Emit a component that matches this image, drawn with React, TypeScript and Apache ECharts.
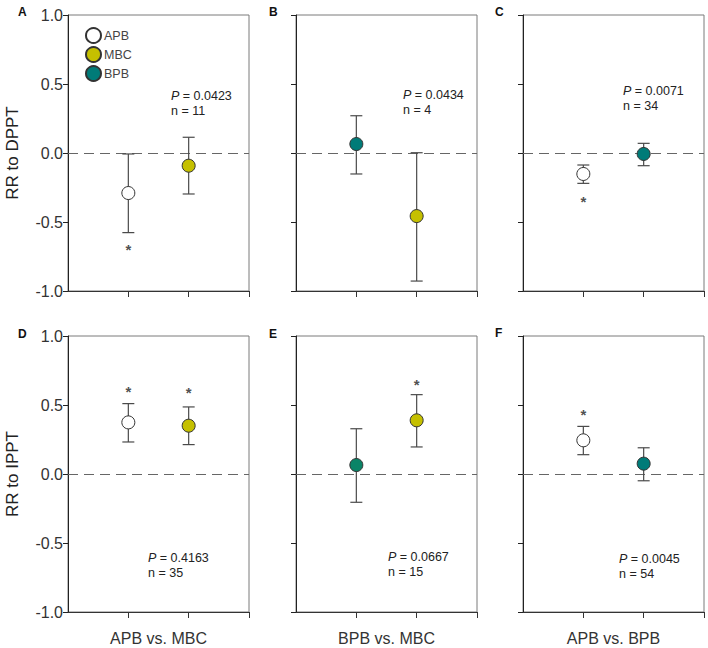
import React, { useEffect, useRef } from "react";
import * as echarts from "echarts";

const panelLetters = ["A", "B", "C", "D", "E", "F"];
const panelGroups = [
  ["APB", "MBC"],
  ["BPB", "MBC"],
  ["APB", "BPB"],
  ["APB", "MBC"],
  ["BPB", "MBC"],
  ["APB", "BPB"],
];
const means = [
  [-0.29, -0.092],
  [0.065, -0.457],
  [-0.152, -0.007],
  [0.374, 0.35],
  [0.065, 0.389],
  [0.244, 0.075],
];
const lowers = [
  [-0.577, -0.297],
  [-0.152, -0.928],
  [-0.22, -0.092],
  [0.232, 0.213],
  [-0.205, 0.196],
  [0.14, -0.049],
];
const uppers = [
  [-0.007, 0.114],
  [0.27, 0.002],
  [-0.087, 0.07],
  [0.51, 0.486],
  [0.328, 0.575],
  [0.345, 0.19],
];
// y position of significance asterisks (null = none)
const stars = [
  [-0.68, null],
  [null, null],
  [-0.333, null],
  [0.623, 0.61],
  [null, 0.669],
  [0.451, null],
];
const pValues = ["0.0423", "0.0434", "0.0071", "0.4163", "0.0667", "0.0045"];
const nValues = [11, 4, 34, 35, 15, 54];
const rowTitles = ["RR to DPPT", "RR to IPPT"];
const colTitles = ["APB vs. MBC", "BPB vs. MBC", "APB vs. BPB"];
const xPositions = [1, 2];

const groupColors: Record<string, string> = {
  APB: "#ffffff",
  MBC: "#c5c000",
  BPB: "#007b78",
};
const panelColorOverride: Record<number, Record<string, string>> = {
  4: { BPB: "#0a8467" },
};

const FONT = "Liberation Sans, Arial, sans-serif";

const gridLefts = [68, 296, 523];
const gridTops = [15, 336];
const gridW = 181;
const gridH = 276;

// text anchors for the P/n annotation (layout)
const annotPos = [
  [171, 89],
  [403, 88],
  [623, 84],
  [148, 551],
  [388, 550],
  [619, 552],
];
const letterPos = [
  [18, 6],
  [269, 6],
  [495, 6],
  [18, 328],
  [269, 328],
  [495, 327],
];

export default function App() {
  const ref = useRef<HTMLDivElement>(null);
  useEffect(() => {
    if (!ref.current) return;
    const chart = echarts.init(ref.current, null, { renderer: "svg" });

    const grids: any[] = [];
    const xAxes: any[] = [];
    const yAxes: any[] = [];
    const series: any[] = [];
    const graphics: any[] = [];

    for (let p = 0; p < 6; p++) {
      const row = Math.floor(p / 3);
      const col = p % 3;
      grids.push({
        left: gridLefts[col],
        top: gridTops[row],
        width: gridW,
        height: gridH,
        show: true,
        borderColor: "#7a7a7a",
        borderWidth: 1,
        backgroundColor: "transparent",
      });
      xAxes.push({
        gridIndex: p,
        type: "value",
        min: 0,
        max: 3,
        interval: 1,
        axisLine: { show: true, onZero: false, lineStyle: { color: "#333", width: 1 } },
        axisTick: {
          show: true,
          inside: false,
          length: 6,
          customValues: [1, 2, 3],
          lineStyle: { color: "#333" },
        },
        axisLabel: { show: false },
        splitLine: { show: false },
        name: row === 1 ? colTitles[col] : "",
        nameLocation: "middle",
        nameGap: 18,
        nameTextStyle: { fontSize: 16, color: "#333", fontFamily: FONT },
      });
      yAxes.push({
        gridIndex: p,
        type: "value",
        min: -1,
        max: 1,
        interval: 0.5,
        axisLine: { show: true, onZero: false, lineStyle: { color: "#222", width: 1 } },
        axisTick: { show: true, inside: false, length: 5, lineStyle: { color: "#222" } },
        axisLabel: {
          show: col === 0,
          fontSize: 16,
          color: "#333",
          fontFamily: FONT,
          margin: 5,
          formatter: (v: number) => v.toFixed(1),
        },
        splitLine: { show: false },
        name: col === 0 ? rowTitles[row] : "",
        nameLocation: "middle",
        nameGap: 47,
        nameTextStyle: { fontSize: 17, color: "#222", fontFamily: FONT },
      });

      const groups = panelGroups[p];
      // error bars
      series.push({
        type: "custom",
        xAxisIndex: p,
        yAxisIndex: p,
        z: 2,
        silent: true,
        data: groups.map((_, i) => [xPositions[i], lowers[p][i], uppers[p][i]]),
        renderItem: (params: any, api: any) => {
          const x = api.value(0);
          const lo = api.coord([x, api.value(1)]);
          const hi = api.coord([x, api.value(2)]);
          const cap = 6;
          const style = { stroke: "#4a4a4a", lineWidth: 1.2 };
          return {
            type: "group",
            children: [
              { type: "line", shape: { x1: lo[0], y1: lo[1], x2: hi[0], y2: hi[1] }, style },
              { type: "line", shape: { x1: lo[0] - cap, y1: lo[1], x2: lo[0] + cap, y2: lo[1] }, style },
              { type: "line", shape: { x1: hi[0] - cap, y1: hi[1], x2: hi[0] + cap, y2: hi[1] }, style },
            ],
          };
        },
      });
      // points
      groups.forEach((g, i) => {
        const color = (panelColorOverride[p] && panelColorOverride[p][g]) || groupColors[g];
        const s: any = {
          type: "scatter",
          name: g,
          xAxisIndex: p,
          yAxisIndex: p,
          z: 5,
          symbol: "circle",
          symbolSize: 13,
          itemStyle: { color, borderColor: "#333", borderWidth: 1, opacity: 1 },
          data: [[xPositions[i], means[p][i]]],
        };
        if (i === 0) {
          s.markLine = {
            silent: true,
            symbol: ["none", "none"],
            label: { show: false },
            lineStyle: { type: [10, 6], color: "#666", width: 1.2 },
            data: [{ yAxis: 0 }],
            z: 1,
          };
        }
        series.push(s);
      });
      // asterisks
      const starData: any[] = [];
      groups.forEach((_, i) => {
        if (stars[p][i] !== null) starData.push([xPositions[i], stars[p][i]]);
      });
      if (starData.length) {
        series.push({
          type: "scatter",
          xAxisIndex: p,
          yAxisIndex: p,
          symbolSize: 1,
          itemStyle: { color: "transparent" },
          silent: true,
          label: {
            show: true,
            position: "inside",
            formatter: "*",
            fontSize: 15,
            fontWeight: "bold",
            color: "#222",
            fontFamily: FONT,
            offset: [0, 3],
          },
          data: starData,
        });
      }

      graphics.push({
        type: "text",
        left: annotPos[p][0],
        top: annotPos[p][1],
        style: {
          text: `{i|P} = ${pValues[p]}\nn = ${nValues[p]}`,
          fontSize: 12.5,
          lineHeight: 14.5,
          fontFamily: FONT,
          fill: "#222",
          rich: {
            i: { fontStyle: "italic", fontSize: 12.5, fontFamily: FONT, fill: "#222" },
          },
        },
      });
      graphics.push({
        type: "text",
        left: letterPos[p][0],
        top: letterPos[p][1],
        style: {
          text: panelLetters[p],
          fontSize: 12,
          fontWeight: "bold",
          fontFamily: FONT,
          fill: "#111",
        },
      });
    }

    chart.setOption({
      animation: false,
      backgroundColor: "#ffffff",
      grid: grids,
      xAxis: xAxes,
      yAxis: yAxes,
      series,
      graphic: graphics,
      legend: {
        data: ["APB", "MBC", "BPB"],
        orient: "vertical",
        left: 80,
        top: 22,
        icon: "circle",
        itemWidth: 15,
        itemHeight: 15,
        itemGap: 2,
        selectedMode: false,
        textStyle: { fontSize: 12.5, color: "#444", fontFamily: FONT, padding: [0, 0, 0, -2] },
      },
    });
    return () => chart.dispose();
  }, []);
  return (
    <div
      ref={ref}
      style={{ position: "absolute", left: 0, top: 0, width: 708, height: 648 }}
    />
  );
}
